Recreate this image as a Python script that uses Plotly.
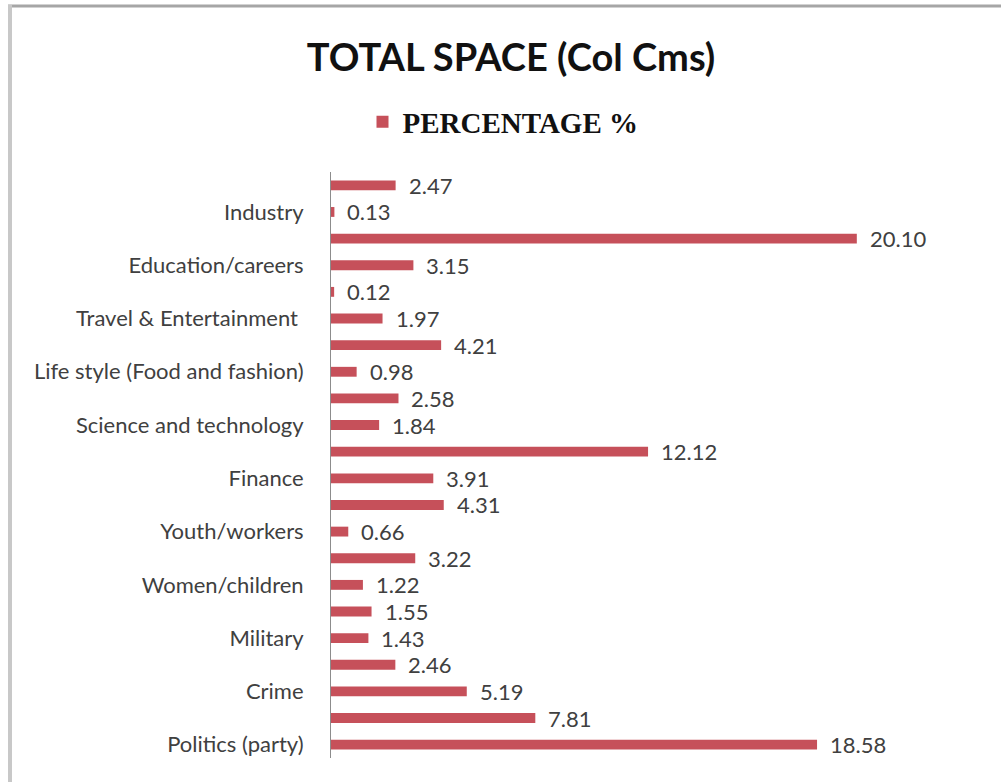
import plotly.graph_objects as go

# Share of total column-centimetre space, listed bottom to top.
# Only every other category carries a visible axis label.
labels = [
    "Politics (party)", "", "Crime", "", "Military", "", "Women/children", "",
    "Youth/workers", "", "Finance", "", "Science and technology", "",
    "Life style (Food and fashion)", "", "Travel & Entertainment ", "",
    "Education/careers", "", "Industry", "",
]
values = [
    18.58, 7.81, 5.19, 2.46, 1.43, 1.55, 1.22, 3.22,
    0.66, 4.31, 3.91, 12.12, 1.84, 2.58,
    0.98, 4.21, 1.97, 0.12,
    3.15, 20.10, 0.13, 2.47,
]
positions = list(range(len(values)))

BAR_RED = "#C6505A"
TEXT = "#404040"
FONT = "Lato"

W, H = 1001, 782
L, R, T, B = 331, 16, 172, 24
plot_w = W - L - R
plot_h = H - T - B

fig = go.Figure()
fig.add_trace(go.Bar(
    x=values,
    y=positions,
    orientation="h",
    width=0.37,
    marker=dict(color=BAR_RED, line=dict(width=0)),
    name="<b>PERCENTAGE %</b>",
    showlegend=True,
    hoverinfo="x",
))

# value labels just past each bar end
for p, v in zip(positions, values):
    fig.add_annotation(
        x=v, y=p, text=f"{v:.2f}", showarrow=False,
        xanchor="left", yanchor="middle", xshift=11,
        font=dict(family=FONT, size=22, color=TEXT),
    )

# frame lines along the top and left edge of the chart area
def px_x(px):
    return (px - L) / plot_w

def px_y(py):
    return (H - B - py) / plot_h

fig.add_shape(type="line", xref="paper", yref="paper",
              x0=px_x(8), x1=px_x(1001), y0=px_y(6), y1=px_y(6),
              line=dict(color="#A6A6A6", width=3))
fig.add_shape(type="line", xref="paper", yref="paper",
              x0=px_x(10), x1=px_x(10), y0=px_y(5), y1=px_y(782),
              line=dict(color="#C8C8C8", width=4))

fig.update_layout(
    width=W, height=H,
    margin=dict(l=L, r=R, t=T, b=B, autoexpand=False),
    paper_bgcolor="white", plot_bgcolor="white",
    title=dict(
        text="<b>TOTAL SPACE (Col Cms)</b>",
        x=511 / W, xanchor="center", xref="container",
        y=1 - 58 / H, yanchor="middle", yref="container",
        font=dict(family=FONT, size=38, color="#111111"),
    ),
    legend=dict(
        orientation="h", x=px_x(503), xanchor="center",
        y=px_y(122), yanchor="middle",
        font=dict(family="Liberation Serif", size=29, color="#111111"),
        itemsizing="constant", itemwidth=30,
    ),
    xaxis=dict(range=[0, 25], visible=False, fixedrange=True),
    yaxis=dict(
        range=[-0.5, len(values) - 0.5],
        tickmode="array", tickvals=positions, ticktext=labels,
        showline=True, linecolor="#8C8C8C", linewidth=1,
        ticks="", showgrid=False, zeroline=False,
        ticklabelstandoff=22,
        tickfont=dict(family=FONT, size=22, color=TEXT),
    ),
)

fig.write_html("out.html")
